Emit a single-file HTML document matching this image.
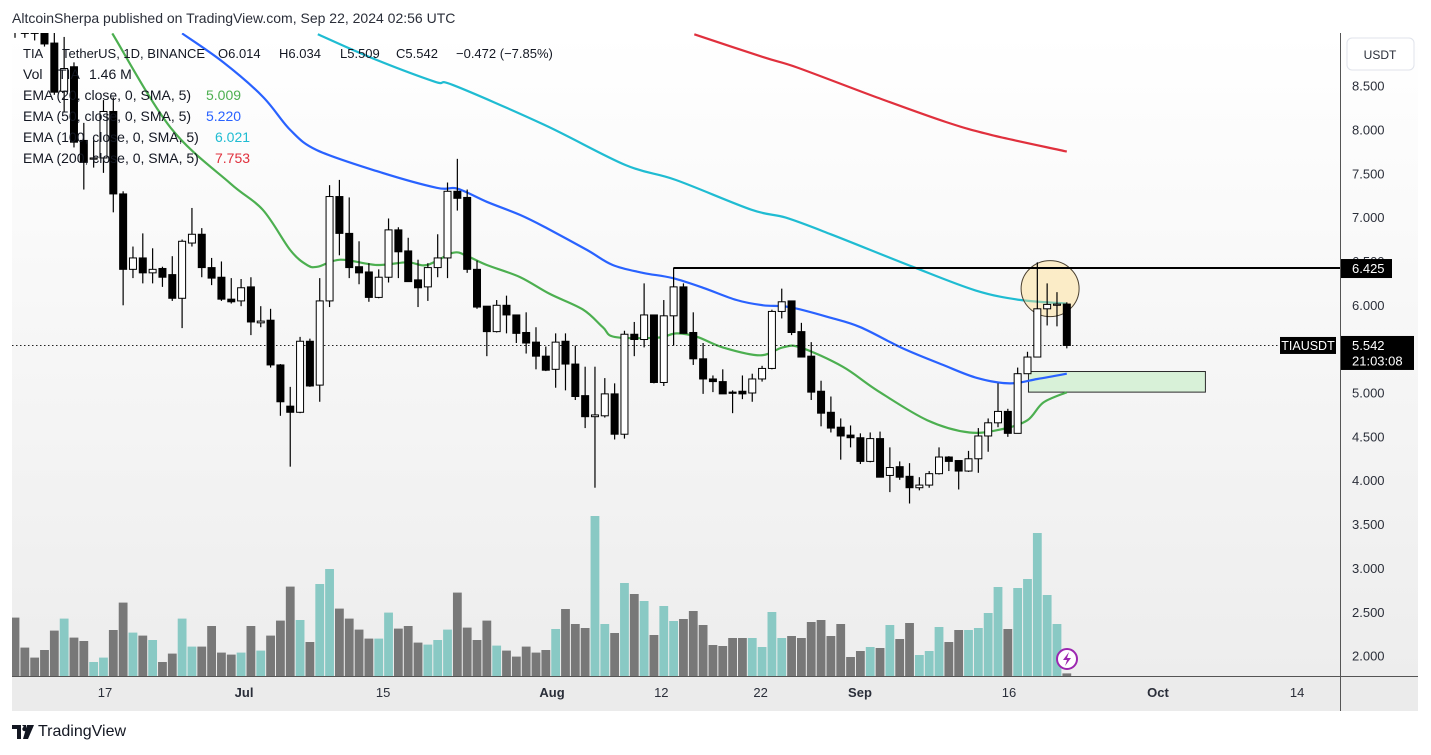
<!DOCTYPE html>
<html><head><meta charset="utf-8"><title>TIAUSDT chart</title>
<style>
html,body{margin:0;padding:0;background:#fff;}
body{width:1431px;height:755px;overflow:hidden;position:relative;font-family:"Liberation Sans",sans-serif;}
#hdr{position:absolute;left:12px;top:10px;font-size:14px;color:#2a2e39;}
#logo{position:absolute;left:12px;top:723px;font-size:16px;color:#131722;display:flex;align-items:center;gap:4px;}
svg{position:absolute;left:0;top:0;}
</style></head>
<body>
<div id="hdr">AltcoinSherpa published on TradingView.com, Sep 22, 2024 02:56 UTC</div>
<div id="logo">
<svg style="position:static" width="22" height="14" viewBox="0 0 22 14"><path d="M0 0h9v14H5V4H0z M10 0h4l0 4z M15 0h7l-6 14h-5z" fill="#131722"/><circle cx="12.5" cy="4" r="2.2" fill="#131722"/></svg>
<span>TradingView</span></div>
<svg id="chart" width="1431" height="755"></svg>
<script>
// ---- data ----
const opens  = [9.40,9.30,9.30,9.10,8.99,8.44,8.72,7.88,7.67,7.68,8.21,7.27,6.41,6.54,6.37,6.42,6.35,6.08,6.71,6.81,6.43,6.32,6.07,6.05,6.21,5.80,5.83,5.32,4.85,4.78,5.59,5.09,6.05,7.24,6.82,6.44,6.38,6.09,6.32,6.86,6.62,6.29,6.21,6.43,6.54,7.30,7.23,6.41,5.99,5.70,6.00,5.89,5.69,5.58,5.42,5.27,5.59,5.33,4.97,4.73,4.74,4.99,4.53,5.67,5.61,5.89,5.12,5.88,6.21,5.69,5.39,5.16,5.13,5.01,5.02,5.00,5.16,5.28,5.93,6.05,5.70,5.42,5.02,4.78,4.61,4.52,4.49,4.22,4.48,4.06,4.16,4.05,3.92,3.95,4.08,4.27,4.23,4.11,4.25,4.51,4.66,4.79,4.54,5.22,5.41,5.96,6.01,6.014];
const highs  = [9.60,9.50,9.45,9.30,9.20,9.06,8.77,8.08,7.88,8.34,8.37,7.30,6.67,6.82,6.65,6.44,6.56,6.75,7.11,6.88,6.54,6.50,6.31,6.30,6.32,5.99,5.96,5.33,5.07,5.64,5.62,6.31,7.37,7.43,7.23,6.73,6.48,6.41,6.99,6.89,6.77,6.52,6.48,6.81,7.40,7.67,7.32,6.51,5.99,6.06,6.11,5.89,5.92,5.75,5.53,5.68,5.68,5.54,5.30,5.30,5.17,5.11,5.71,5.81,6.25,5.89,6.06,6.43,6.25,5.92,5.57,5.20,5.27,5.03,5.20,5.22,5.31,5.95,6.19,6.05,5.80,5.58,5.14,4.96,4.71,4.63,4.54,4.55,4.56,4.38,4.22,4.20,4.04,4.11,4.38,4.28,4.23,4.34,4.60,4.71,5.11,4.82,5.29,5.47,6.49,6.25,6.15,6.034];
const lows   = [9.05,9.05,9.02,8.95,8.40,8.20,7.80,7.32,7.57,7.51,7.06,6.00,6.31,6.25,6.25,6.21,6.05,5.74,6.67,6.32,6.23,6.05,6.02,5.99,5.66,5.75,5.29,4.74,4.16,4.77,5.07,4.90,5.98,6.57,6.31,6.24,6.04,6.08,6.26,6.31,6.27,5.98,6.05,6.32,6.31,7.08,6.37,5.96,5.42,5.69,5.68,5.57,5.45,5.27,5.25,5.06,5.03,4.92,4.60,3.92,4.72,4.47,4.48,5.42,5.52,5.11,5.08,5.54,5.68,5.32,4.99,5.01,4.99,4.77,4.93,4.90,5.13,5.27,5.85,5.66,5.41,4.92,4.62,4.55,4.24,4.38,4.19,4.21,4.04,3.87,4.01,3.74,3.89,3.92,4.07,4.11,3.90,4.10,4.09,4.33,4.61,4.50,4.54,5.22,5.41,5.77,5.76,5.509];
const closes = [9.15,9.10,9.10,8.98,8.43,8.70,7.86,7.63,7.68,8.21,7.27,6.41,6.54,6.37,6.41,6.32,6.08,6.73,6.81,6.43,6.31,6.07,6.04,6.20,5.81,5.82,5.32,4.90,4.78,5.59,5.08,6.05,7.24,6.82,6.43,6.37,6.09,6.32,6.86,6.61,6.27,6.20,6.43,6.54,7.30,7.22,6.41,5.98,5.70,6.00,5.89,5.68,5.57,5.42,5.26,5.58,5.33,4.96,4.73,4.75,4.99,4.53,5.67,5.61,5.89,5.12,5.88,6.21,5.68,5.39,5.16,5.13,4.99,5.00,4.99,5.16,5.28,5.93,6.04,5.69,5.41,5.01,4.77,4.60,4.51,4.49,4.22,4.48,4.04,4.15,4.04,3.92,3.95,4.08,4.27,4.22,4.11,4.25,4.51,4.66,4.79,4.54,5.22,5.41,5.96,6.01,6.014,5.542];
const volumes = [2.92,1.42,0.92,1.30,2.27,2.87,1.92,1.75,0.70,0.92,2.30,3.67,2.17,2.02,1.80,0.70,1.12,2.87,1.47,1.47,2.50,1.17,1.07,1.17,2.50,1.27,2.02,2.77,4.47,2.80,1.70,4.60,5.35,3.37,2.87,2.32,1.87,1.87,3.17,2.37,2.50,1.67,1.57,1.80,2.32,4.17,2.42,1.80,2.77,1.52,1.27,0.97,1.47,1.17,1.30,2.35,3.35,2.60,2.40,8.00,2.60,2.15,4.65,4.10,3.75,2.05,3.50,2.75,2.85,3.25,2.55,1.55,1.50,1.90,1.90,1.90,1.45,3.20,1.90,2.00,1.90,2.70,2.80,2.00,2.60,0.95,1.25,1.45,1.40,2.55,1.85,2.65,1.05,1.25,2.45,1.70,2.30,2.30,2.40,3.15,4.45,2.35,4.40,4.85,7.15,4.05,2.60,0.13];
const ema20Idx = [9.9,15.8,21.9,25.2,28.0,29.7,30.8,33.1,36.8,39.9,41.9,44.6,46.0,48.0,51.4,54.4,57.8,59.8,61.0,65.3,67.3,69.4,72.0,75.8,78.1,79.9,84.2,87.7,92.8,97.1,100.5,103.0,104.6,107];
const ema20Val = [9.10,8.03,7.39,7.09,6.63,6.46,6.44,6.52,6.46,6.49,6.46,6.60,6.56,6.46,6.32,6.13,5.95,5.75,5.64,5.63,5.68,5.64,5.52,5.43,5.52,5.52,5.30,5.03,4.69,4.55,4.59,4.69,4.89,5.009];
const ema50Idx = [17.0,21.2,25.2,28.0,30.7,36.8,42.9,45.0,48.0,51.4,54.1,58.2,60.8,63.9,66.9,70.0,73.4,76.1,78.8,82.9,86.0,90.3,94.4,97.9,101.2,104.0,107];
const ema50Val = [9.10,8.77,8.38,8.00,7.77,7.53,7.34,7.33,7.18,7.03,6.88,6.63,6.46,6.37,6.31,6.20,6.06,6.00,5.98,5.86,5.75,5.51,5.32,5.17,5.11,5.16,5.22];
const ema100Idx = [30.8,36.3,42.7,44.6,53.8,62.1,67.2,74.9,78.4,83.0,91.3,97.7,102.3,107];
const ema100Val = [9.09,8.82,8.55,8.51,8.06,7.60,7.43,7.09,7.00,6.81,6.44,6.17,6.06,6.021];
const ema200Idx = [69.1,76.1,79.6,87.7,94.7,99.4,107];
const ema200Val = [9.09,8.83,8.71,8.37,8.09,7.94,7.753];
const priceTicks = [2.0,2.5,3.0,3.5,4.0,4.5,5.0,5.5,6.0,6.5,7.0,7.5,8.0,8.5];
const dateLabels = ["17","Jul","15","Aug","12","22","Sep","16","Oct","14"];
const dateDays = [0,14,28,45,56,66,76,91,106,120];
const dateBold = [false,true,false,true,false,false,true,false,true,false];
const resistanceLevel = 6.425;
const resistanceStartIdx = 67;
const lastPrice = 5.542;
const zoneTop = 5.245, zoneBottom = 5.01, zoneStartIdx = 103.1, zoneEndIdx = 121.1;
const circleIdx = 105.3, circlePrice = 6.19;

// ---- scales ----
const PANE = {l:12, r:1340, t:33, b:676};
function xScale(i){ return 15 + i*9.83; }
function yScale(p){ return 831.5 - p*87.7; }
function dateX(d){ return 105 + d*9.934; }
function vScale(v){ return v*20; }

const NS = "http://www.w3.org/2000/svg";
const svg = document.getElementById('chart');
function el(tag, attrs, parent){ const e=document.createElementNS(NS,tag); for(const k in attrs) e.setAttribute(k,attrs[k]); (parent||svg).appendChild(e); return e; }

const defs = el('defs',{});
const grad = el('linearGradient',{id:'bg',x1:0,y1:0,x2:0,y2:1},defs);
el('stop',{offset:'0','stop-color':'#ffffff'},grad);
el('stop',{offset:'1','stop-color':'#ececec'},grad);
const cp = el('clipPath',{id:'pane'},defs);
el('rect',{x:PANE.l,y:PANE.t,width:PANE.r-PANE.l,height:PANE.b-PANE.t},cp);

const bg = el('rect',{x:12,y:33,width:1406,height:678,fill:'url(#bg)'});


const dateBg = el('rect',{x:12,y:677,width:1406,height:34,fill:'#ebebeb'});



const g = el('g',{'clip-path':'url(#pane)'});



const volG = el('g',{},g);


for(let i=0;i<volumes.length;i++){
  const up = closes[i] >= opens[i];
  const h = vScale(volumes[i]);
  const r = el('rect',{x:xScale(i)-4.4,y:PANE.b-h,width:8.8,height:h,fill: up?'#89c9c4':'#787878'},volG);
  
  
}

const zone = el('rect',{x:xScale(zoneStartIdx),y:yScale(zoneTop),width:xScale(zoneEndIdx)-xScale(zoneStartIdx),height:yScale(zoneBottom)-yScale(zoneTop),fill:'#d8f1d8',stroke:'#2b2b2b','stroke-width':1},g);



function smoothPath(idx, vals){
  const pts = idx.map((v,k)=>[xScale(v), yScale(vals[k])]);
  let d = 'M'+pts[0][0].toFixed(1)+','+pts[0][1].toFixed(1);
  for(let k=0;k<pts.length-1;k++){
    const p0=pts[k-1]||pts[k], p1=pts[k], p2=pts[k+1], p3=pts[k+2]||p2;
    const c1=[p1[0]+(p2[0]-p0[0])/6, p1[1]+(p2[1]-p0[1])/6];
    const c2=[p2[0]-(p3[0]-p1[0])/6, p2[1]-(p3[1]-p1[1])/6];
    d+=' C'+c1[0].toFixed(1)+','+c1[1].toFixed(1)+' '+c2[0].toFixed(1)+','+c2[1].toFixed(1)+' '+p2[0].toFixed(1)+','+p2[1].toFixed(1);
  }
  return d;
}
const e200 = el('path',{d:smoothPath(ema200Idx,ema200Val),fill:'none',stroke:'#e0303d','stroke-width':2.2},g);


const e100 = el('path',{d:smoothPath(ema100Idx,ema100Val),fill:'none',stroke:'#1fbcd2','stroke-width':2.2},g);


const e50 = el('path',{d:smoothPath(ema50Idx,ema50Val),fill:'none',stroke:'#2962ff','stroke-width':2.2},g);


const e20 = el('path',{d:smoothPath(ema20Idx,ema20Val),fill:'none',stroke:'#4caf50','stroke-width':2.2},g);



const circ = el('ellipse',{cx:xScale(circleIdx),cy:yScale(circlePrice),rx:29,ry:28,fill:'rgba(255,222,140,0.45)',stroke:'#4a4030','stroke-width':1},g);



const res = el('line',{x1:xScale(resistanceStartIdx),x2:PANE.r,y1:yScale(resistanceLevel),y2:yScale(resistanceLevel),stroke:'#000','stroke-width':2},g);



const lp = el('line',{x1:PANE.l,x2:1280,y1:yScale(lastPrice),y2:yScale(lastPrice),stroke:'#222','stroke-width':1,'stroke-dasharray':'1.5,2.5'},g);



const cG = el('g',{},g);


for(let i=0;i<opens.length;i++){
  const x = xScale(i), up = closes[i] >= opens[i];
  const w = el('line',{x1:x,x2:x,y1:yScale(highs[i]),y2:yScale(lows[i]),stroke:'#000','stroke-width':1.2},cG);
  
  
  const yt = yScale(Math.max(opens[i],closes[i])), yb = yScale(Math.min(opens[i],closes[i]));
  const b = el('rect',{x:x-3.5,y:yt,width:7,height:Math.max(1.2,yb-yt),fill: up?'#fff':'#000',stroke:'#000','stroke-width':1},cG);
  
  
}

const ax1 = el('line',{x1:12,x2:1418,y1:676.5,y2:676.5,stroke:'#555','stroke-width':1});


const ax2 = el('line',{x1:1340.5,x2:1340.5,y1:33,y2:711,stroke:'#555','stroke-width':1});



for(let k=0;k<priceTicks.length;k++){
  const t = el('text',{x:1352,y:yScale(priceTicks[k])+4.5,'font-size':13,fill:'#2a2e39','font-family':'Liberation Sans, sans-serif'});
  t.textContent = priceTicks[k].toFixed(3);
  
  
}
for(let k=0;k<dateLabels.length;k++){
  const t = el('text',{x:dateX(dateDays[k]),y:697,'font-size':13,fill:'#2a2e39','text-anchor':'middle','font-weight':dateBold[k]?'bold':'normal','font-family':'Liberation Sans, sans-serif'});
  t.textContent = dateLabels[k];
  
  
}

const ub = el('rect',{x:1347,y:38,width:67,height:32,rx:5,fill:'#fff',stroke:'#e0e3eb'});


const ut = el('text',{x:1380,y:59,'font-size':12,fill:'#2a2e39','text-anchor':'middle','font-family':'Liberation Sans, sans-serif'});
ut.textContent='USDT';



const rl = el('rect',{x:1341,y:yScale(resistanceLevel)-9,width:51,height:19,fill:'#000'});


const rlt = el('text',{x:1352,y:yScale(resistanceLevel)+5,'font-size':13,fill:'#fff','font-family':'Liberation Sans, sans-serif'});
rlt.textContent = resistanceLevel.toFixed(3);



const sl = el('rect',{x:1280,y:yScale(lastPrice)-8.5,width:56,height:17,fill:'#000'});


const slt = el('text',{x:1308,y:yScale(lastPrice)+4.5,'font-size':12.5,fill:'#fff','text-anchor':'middle','font-family':'Liberation Sans, sans-serif'});
slt.textContent='TIAUSDT';


const pl = el('rect',{x:1341,y:yScale(lastPrice)-9.5,width:73,height:34,fill:'#000'});


const plt = el('text',{x:1352,y:yScale(lastPrice)+4.5,'font-size':13,fill:'#fff','font-family':'Liberation Sans, sans-serif'});
plt.textContent = lastPrice.toFixed(3);


const cdt = el('text',{x:1352,y:yScale(lastPrice)+20,'font-size':13,fill:'#fff','font-family':'Liberation Sans, sans-serif'});
cdt.textContent='21:03:08';



const li = el('circle',{cx:1067,cy:659,r:10,fill:'#fff',stroke:'#9c27b0','stroke-width':2});


const lip = el('path',{d:'M1069,652 L1063,660 L1067,660 L1065,666 L1071,658 L1067,658 Z',fill:'#9c27b0'});



// legend: [text, color, x]
const legend = [
  [['TIA','#131722',23],['TetherUS, 1D, BINANCE','#131722',62],['O6.014','#131722',218],['H6.034','#131722',279],['L5.509','#131722',340],['C5.542','#131722',396],['−0.472 (−7.85%)','#131722',456]],
  [['Vol','#131722',23],['TIA','#131722',58],['1.46 M','#131722',89]],
  [['EMA (20, close, 0, SMA, 5)','#131722',23],['5.009','#4caf50',206]],
  [['EMA (50, close, 0, SMA, 5)','#131722',23],['5.220','#2962ff',206]],
  [['EMA (100, close, 0, SMA, 5)','#131722',23],['6.021','#1fbcd2',215]],
  [['EMA (200, close, 0, SMA, 5)','#131722',23],['7.753','#e0303d',215]]
];
const legendNames = ['legend-symbol','legend-volume','legend-ema-20','legend-ema-50','legend-ema-100','legend-ema-200'];
for(let k=0;k<legend.length;k++){
  const t = el('text',{y:58+k*21,'font-size':k===0?13:14,'font-family':'Liberation Sans, sans-serif'});
  
  
  legend[k].forEach(([s,c,x])=>{ const sp=el('tspan',{fill:c,x:x},t); sp.textContent=s; });
}
</script>
</body></html>
